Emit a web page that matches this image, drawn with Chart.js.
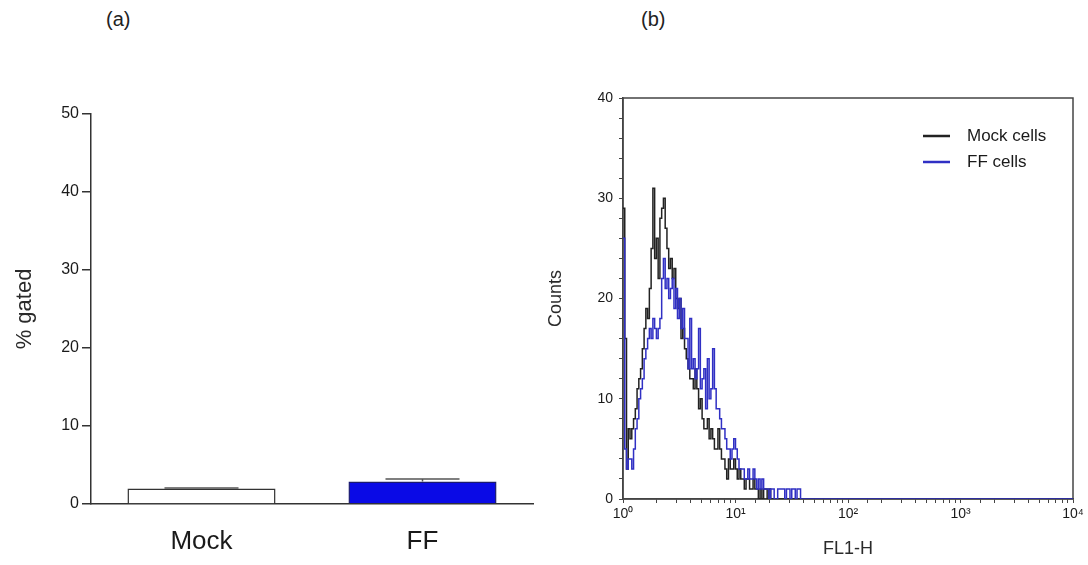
<!DOCTYPE html>
<html lang="en">
<head>
    <meta charset="UTF-8">
    <title>% gated and FL1-H histogram</title>
    <script src="https://cdn.jsdelivr.net/npm/chart.js@4.4.2/dist/chart.umd.min.js"></script>
    <style>
        body {
            margin: 0;
            background: #fff;
            font-family: 'Liberation Sans', Arial, sans-serif;
        }
        .panel-tag {
            position: absolute;
            top: 8px;
            font-size: 20px;
            color: #222;
        }
        .box {
            position: absolute;
            top: 0;
        }
    </style>
</head>
<body>
    <div class="panel-tag" style="left: 106px;">(a)</div>
    <div class="panel-tag" style="left: 641px;">(b)</div>

    <div class="box" style="left: 0;"><canvas id="gatedChart" width="540" height="565"></canvas></div>
    <div class="box" style="left: 540px;"><canvas id="histChart" width="548" height="565"></canvas></div>

    <script>
    // --- (a) bar data ---
    const groups = ['Mock', 'FF'];
    const gatedPct = [2.0, 2.9];
    const gatedErr = [0.05, 0.3];
    const barFill = ['#ffffff', '#0a0ae6'];
    const barEdge = ['#333333', '#1a1a70'];

    // --- (b) histogram data, one value per channel (64 channels per decade) ---
    const channelsPerDecade = 64;
    const lastChannel = 256;   // 10^4
    const mockCounts = [
        29, 16, 3, 7, 6, 7, 8, 9, 11, 12,
        13, 15, 17, 19, 18, 21, 25, 31, 24, 26,
        22, 28, 29, 30, 27, 25, 23, 24, 22, 23,
        20, 19, 20, 16, 17, 15, 14, 13, 12, 12,
        11, 13, 11, 9, 10, 8, 7, 7, 8, 6,
        7, 6, 5, 5, 7, 5, 4, 4, 3, 2,
        4, 3, 3, 4, 3, 2, 3, 2, 2, 1,
        2, 2, 1, 1, 2, 1, 1, 0, 1, 0,
        1, 1, 0, 1, 0
    ];
    const ffCounts = [
        26, 5, 3, 4, 4, 3, 5, 7, 8, 10,
        11, 12, 14, 15, 16, 17, 16, 18, 17, 16,
        17, 18, 22, 24, 21, 22, 20, 21, 22, 19,
        21, 18, 20, 17, 19, 16, 16, 13, 18, 13,
        14, 12, 13, 17, 11, 12, 13, 9, 14, 10,
        11, 15, 11, 9, 9, 8, 7, 7, 6, 5,
        5, 4, 5, 6, 5, 4, 3, 3, 3, 2,
        2, 3, 2, 2, 3, 2, 1, 2, 1, 2,
        1, 1, 1, 0, 1, 1, 0, 0, 1, 1,
        1, 1, 0, 1, 1, 0, 1, 1, 0, 1,
        1, 0
    ];
    const seriesNames = ['Mock cells', 'FF cells'];
    const seriesColors = ['#222222', '#3030c4'];
    const decadeLabels = ['10\u2070', '10\u00b9', '10\u00b2', '10\u00b3', '10\u2074'];

    const FONT = "'Liberation Sans', Arial, sans-serif";
    Chart.defaults.font.family = FONT;
    Chart.defaults.color = '#1a1a1a';

    // channels with no events after the last listed one are zero up to 10^4
    function toPoints(counts) {
        const pts = [];
        for (let c = 0; c <= lastChannel; c++) {
            pts.push({ x: Math.pow(10, c / channelsPerDecade), y: c < counts.length ? counts[c] : 0 });
        }
        return pts;
    }

    // error bar caps on top of the bars
    const errorBars = {
        id: 'errorBars',
        afterDatasetsDraw(chart) {
            const { ctx } = chart;
            const yScale = chart.scales.y;
            chart.getDatasetMeta(0).data.forEach((bar, i) => {
                const top = yScale.getPixelForValue(gatedPct[i] + gatedErr[i]);
                const half = bar.width * 0.25;
                ctx.save();
                ctx.strokeStyle = '#555';
                ctx.lineWidth = 1.5;
                ctx.beginPath();
                ctx.moveTo(bar.x, bar.y);
                ctx.lineTo(bar.x, top);
                ctx.moveTo(bar.x - half, top);
                ctx.lineTo(bar.x + half, top);
                ctx.stroke();
                ctx.restore();
            });
        }
    };

    new Chart(document.getElementById('gatedChart'), {
        type: 'bar',
        data: {
            labels: groups,
            datasets: [{
                data: gatedPct,
                backgroundColor: barFill,
                borderColor: barEdge,
                borderWidth: 1.5,
                barPercentage: 0.67,
                categoryPercentage: 1
            }]
        },
        options: {
            responsive: false,
            animation: false,
            layout: { padding: { top: 114, right: 7, left: 0, bottom: 0 } },
            plugins: { legend: { display: false }, tooltip: { enabled: false } },
            scales: {
                x: {
                    grid: { display: false, drawTicks: false },
                    border: { color: '#333', width: 1.5 },
                    ticks: { font: { size: 26 }, color: '#1a1a1a', padding: 22 },
                    afterFit: s => { s.height = 61; }
                },
                y: {
                    min: 0,
                    max: 50,
                    ticks: { stepSize: 10, font: { size: 16 }, color: '#1a1a1a', padding: 3 },
                    grid: { drawOnChartArea: false, tickLength: 9, color: '#333', lineWidth: 1.5 },
                    border: { color: '#333', width: 1.5 },
                    title: { display: true, text: '% gated', font: { size: 22 }, color: '#2a2a2a', padding: { top: 12 } },
                    afterFit: s => { s.width = 91; }
                }
            }
        },
        plugins: [errorBars]
    });

    // box round the plot area, then the legend in its top right corner
    const frameAndKey = {
        id: 'frameAndKey',
        beforeDatasetsDraw(chart) {
            const { ctx, chartArea: a } = chart;
            ctx.save();
            ctx.strokeStyle = '#444';
            ctx.lineWidth = 1.5;
            ctx.strokeRect(a.left, a.top, a.right - a.left, a.bottom - a.top);
            ctx.restore();
        },
        afterDraw(chart) {
            const { ctx, chartArea: a } = chart;
            ctx.save();
            ctx.font = '17px ' + FONT;
            ctx.textBaseline = 'middle';
            chart.data.datasets.forEach((ds, i) => {
                const y = a.top + 38 + i * 26;
                ctx.strokeStyle = ds.borderColor;
                ctx.lineWidth = 2.5;
                ctx.beginPath();
                ctx.moveTo(a.right - 150, y);
                ctx.lineTo(a.right - 123, y);
                ctx.stroke();
                ctx.fillStyle = '#1a1a1a';
                ctx.fillText(ds.label, a.right - 106, y);
            });
            ctx.restore();
        }
    };

    new Chart(document.getElementById('histChart'), {
        type: 'line',
        data: {
            datasets: [
                { label: seriesNames[0], data: toPoints(mockCounts), borderColor: seriesColors[0], order: 1 },
                { label: seriesNames[1], data: toPoints(ffCounts), borderColor: seriesColors[1], order: 0 }
            ]
        },
        options: {
            responsive: false,
            animation: false,
            parsing: false,
            layout: { padding: { top: 98, right: 15, left: 0, bottom: 0 } },
            elements: {
                point: { radius: 0 },
                line: { borderWidth: 1.5, stepped: true, tension: 0 }
            },
            plugins: { legend: { display: false }, tooltip: { enabled: false } },
            scales: {
                x: {
                    type: 'logarithmic',
                    min: 1,
                    max: 10000,
                    ticks: {
                        autoSkip: false,
                        maxRotation: 0,
                        font: { size: 14 },
                        padding: 3,
                        callback: v => {
                            const e = Math.log10(v);
                            return Math.abs(e - Math.round(e)) < 1e-9 ? decadeLabels[Math.round(e)] : '';
                        }
                    },
                    grid: { drawOnChartArea: false, tickLength: 4, color: '#444' },
                    border: { color: '#444', width: 1.5 },
                    title: { display: true, text: 'FL1-H', font: { size: 18 }, color: '#2a2a2a', padding: { bottom: 5 } },
                    afterFit: s => { s.height = 66; }
                },
                y: {
                    min: 0,
                    max: 40,
                    ticks: {
                        stepSize: 2,
                        autoSkip: false,
                        font: { size: 14 },
                        padding: 6,
                        callback: v => (v % 10 === 0 ? v : '')
                    },
                    grid: { drawOnChartArea: false, tickLength: 4, color: '#444' },
                    border: { color: '#444', width: 1.5 },
                    title: { display: true, text: 'Counts', font: { size: 18 }, color: '#2a2a2a', padding: { top: 5 } },
                    afterFit: s => { s.width = 83; }
                }
            }
        },
        plugins: [frameAndKey]
    });
    </script>
</body>
</html>
